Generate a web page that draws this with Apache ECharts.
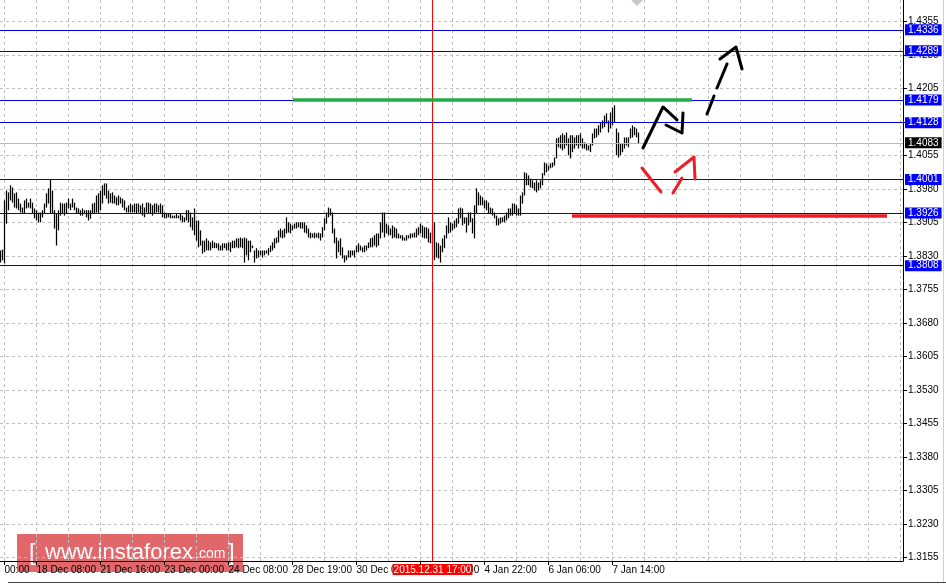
<!DOCTYPE html>
<html><head><meta charset="utf-8">
<script src="https://cdn.jsdelivr.net/npm/echarts@6/dist/echarts.min.js"></script>
<style>html,body{margin:0;padding:0;background:#fff}#c{width:946px;height:585px}</style>
</head><body><div id="c"></div>
<script>
// ---- data (H1 bars: high / low) ----
const barHigh = [
1.3842,1.3844,1.3954,1.3976,1.3972,1.3988,1.3983,1.3970,1.3972,1.3958,
1.3947,1.3938,1.3954,1.3958,1.3949,1.3958,1.3949,1.3936,1.3932,1.3927,
1.3927,1.3932,1.3947,1.3970,1.3981,1.4001,1.3976,1.3932,1.3925,1.3932,
1.3949,1.3947,1.3947,1.3949,1.3958,1.3947,1.3958,1.3949,1.3938,1.3936,
1.3932,1.3936,1.3932,1.3932,1.3932,1.3932,1.3947,1.3949,1.3965,1.3970,
1.3976,1.3988,1.3992,1.3992,1.3976,1.3970,1.3972,1.3965,1.3961,1.3965,
1.3961,1.3958,1.3954,1.3938,1.3943,1.3947,1.3943,1.3947,1.3947,1.3947,
1.3943,1.3947,1.3938,1.3949,1.3949,1.3947,1.3943,1.3947,1.3947,1.3943,
1.3947,1.3943,1.3927,1.3925,1.3925,1.3925,1.3920,1.3920,1.3925,1.3920,
1.3925,1.3920,1.3916,1.3932,1.3932,1.3927,1.3916,1.3936,1.3909,1.3909,
1.3887,1.3864,1.3864,1.3869,1.3864,1.3860,1.3864,1.3860,1.3858,1.3858,
1.3853,1.3858,1.3858,1.3858,1.3860,1.3860,1.3864,1.3864,1.3869,1.3869,
1.3871,1.3869,1.3871,1.3869,1.3864,1.3864,1.3853,1.3842,1.3847,1.3842,
1.3842,1.3842,1.3842,1.3842,1.3847,1.3853,1.3860,1.3869,1.3871,1.3887,
1.3891,1.3887,1.3891,1.3916,1.3905,1.3902,1.3898,1.3902,1.3905,1.3905,
1.3905,1.3905,1.3905,1.3898,1.3891,1.3882,1.3880,1.3882,1.3880,1.3882,
1.3880,1.3894,1.3914,1.3927,1.3938,1.3936,1.3927,1.3891,1.3871,1.3864,
1.3869,1.3849,1.3831,1.3831,1.3842,1.3842,1.3842,1.3842,1.3853,1.3858,
1.3853,1.3849,1.3853,1.3853,1.3860,1.3869,1.3871,1.3876,1.3880,1.3880,
1.3905,1.3927,1.3927,1.3902,1.3898,1.3891,1.3898,1.3894,1.3891,1.3880,
1.3876,1.3876,1.3871,1.3876,1.3876,1.3880,1.3880,1.3882,1.3891,1.3894,
1.3902,1.3898,1.3894,1.3894,1.3891,1.3882,1.3894,1.3905,1.3860,1.3858,
1.3853,1.3869,1.3876,1.3898,1.3916,1.3905,1.3902,1.3909,1.3914,1.3936,
1.3938,1.3936,1.3916,1.3916,1.3927,1.3927,1.3914,1.3943,1.3981,1.3972,
1.3965,1.3961,1.3954,1.3954,1.3949,1.3938,1.3936,1.3927,1.3920,1.3914,
1.3916,1.3916,1.3920,1.3927,1.3936,1.3936,1.3947,1.3947,1.3943,1.3936,
1.3965,1.3972,1.4017,1.4015,1.4010,1.4003,1.3999,1.3994,1.3999,1.3994,
1.3999,1.4015,1.4039,1.4037,1.4032,1.4037,1.4039,1.4050,1.4093,1.4095,
1.4100,1.4104,1.4100,1.4106,1.4093,1.4100,1.4100,1.4095,1.4100,1.4100,
1.4104,1.4093,1.4084,1.4082,1.4077,1.4082,1.4104,1.4115,1.4115,1.4122,
1.4129,1.4133,1.4144,1.4149,1.4133,1.4151,1.4162,1.4167,1.4115,1.4106,
1.4082,1.4082,1.4095,1.4095,1.4095,1.4115,1.4122,1.4118,1.4115,1.4106
];
const barLow = [
1.3815,1.3820,1.3813,1.3902,1.3932,1.3954,1.3949,1.3938,1.3936,1.3932,
1.3927,1.3925,1.3925,1.3936,1.3938,1.3936,1.3925,1.3914,1.3909,1.3905,
1.3905,1.3916,1.3925,1.3938,1.3947,1.3925,1.3925,1.3891,1.3853,1.3887,
1.3920,1.3925,1.3920,1.3925,1.3936,1.3932,1.3938,1.3932,1.3925,1.3925,
1.3920,1.3920,1.3925,1.3916,1.3909,1.3913,1.3925,1.3925,1.3927,1.3925,
1.3932,1.3947,1.3965,1.3958,1.3947,1.3949,1.3947,1.3947,1.3943,1.3943,
1.3947,1.3938,1.3932,1.3927,1.3927,1.3927,1.3927,1.3927,1.3925,1.3927,
1.3925,1.3920,1.3916,1.3927,1.3925,1.3925,1.3920,1.3925,1.3927,1.3927,
1.3925,1.3916,1.3914,1.3914,1.3916,1.3914,1.3914,1.3914,1.3914,1.3914,
1.3909,1.3905,1.3905,1.3909,1.3905,1.3894,1.3887,1.3876,1.3864,1.3849,
1.3853,1.3835,1.3838,1.3842,1.3842,1.3842,1.3847,1.3847,1.3847,1.3842,
1.3842,1.3842,1.3847,1.3842,1.3842,1.3838,1.3847,1.3847,1.3849,1.3847,
1.3849,1.3847,1.3815,1.3831,1.3820,1.3838,1.3847,1.3815,1.3824,1.3826,
1.3831,1.3826,1.3831,1.3835,1.3831,1.3838,1.3842,1.3847,1.3858,1.3860,
1.3871,1.3869,1.3871,1.3880,1.3882,1.3880,1.3887,1.3891,1.3891,1.3894,
1.3891,1.3891,1.3882,1.3880,1.3871,1.3869,1.3871,1.3869,1.3871,1.3869,
1.3864,1.3871,1.3887,1.3902,1.3916,1.3920,1.3880,1.3858,1.3824,1.3838,
1.3831,1.3824,1.3815,1.3820,1.3826,1.3826,1.3831,1.3826,1.3838,1.3838,
1.3842,1.3838,1.3838,1.3842,1.3847,1.3849,1.3849,1.3853,1.3849,1.3853,
1.3869,1.3882,1.3871,1.3880,1.3876,1.3876,1.3869,1.3871,1.3869,1.3869,
1.3869,1.3864,1.3864,1.3864,1.3869,1.3869,1.3871,1.3871,1.3871,1.3876,
1.3880,1.3871,1.3869,1.3869,1.3860,1.3858,1.3858,1.3820,1.3826,1.3824,
1.3815,1.3838,1.3847,1.3869,1.3880,1.3882,1.3887,1.3891,1.3894,1.3902,
1.3914,1.3898,1.3902,1.3882,1.3898,1.3905,1.3880,1.3869,1.3925,1.3943,
1.3943,1.3943,1.3936,1.3932,1.3925,1.3925,1.3920,1.3914,1.3898,1.3898,
1.3902,1.3905,1.3905,1.3909,1.3914,1.3920,1.3920,1.3925,1.3920,1.3920,
1.3920,1.3947,1.3965,1.3988,1.3988,1.3983,1.3981,1.3976,1.3972,1.3976,
1.3981,1.3988,1.4010,1.4017,1.4021,1.4026,1.4028,1.4032,1.4048,1.4073,
1.4070,1.4066,1.4070,1.4077,1.4055,1.4048,1.4062,1.4070,1.4077,1.4070,
1.4077,1.4070,1.4070,1.4066,1.4066,1.4062,1.4077,1.4093,1.4095,1.4100,
1.4106,1.4115,1.4118,1.4126,1.4106,1.4115,1.4122,1.4129,1.4055,1.4050,
1.4055,1.4062,1.4070,1.4077,1.4073,1.4093,1.4095,1.4100,1.4095,1.4082
];
// ---- axis ticks / labels ----
const priceTicks = [1.3155,1.3230,1.3305,1.3380,1.3455,1.3530,1.3605,1.3680,1.3755,1.3830,1.3905,1.3980,1.4055,1.4130,1.4205,1.4280,1.4355];
const timeTickIndex = [2,18,50,82,114,146,178,210,242,274,306];
const timeTickLabels = ['00:00','18 Dec 08:00','21 Dec 16:00','23 Dec 00:00','24 Dec 08:00','28 Dec 19:00','30 Dec 03:00','31 Dec 11:00','4 Jan 22:00','6 Jan 06:00','7 Jan 14:00'];
const timeGridIndex = [2,18,34,50,66,82,98,114,130,146,162,178,194,210,226,242,258,274,290,306,322,338,354,370,386,402,418,434,450];
// ---- levels & annotations (bar index, price) ----
const levelValues = [1.4336,1.4289,1.4179,1.4128,1.4001,1.3926,1.3808];
const bidValue = 1.4083;
const markerIndex = 216;
const markerLabel = '2015.12.31 17:00';
const greenZone = [[146.25,1.4180],[345.75,1.4180]];
const redZone = [[285.75,1.3920],[443.25,1.3920]];
const blackArrowPaths = [
  [[321.25,1.40714],[331.25,1.41632],[338.25,1.41341]],
  [[332.75,1.41229],[340.75,1.41049],[341.25,1.41497]]
];
const blackDashPaths = [
  [[353.25,1.41475],[356.75,1.41878]],
  [[358.25,1.42057],[363.25,1.42594]],
  [[359.75,1.42706],[367.75,1.42975],[370.75,1.42482]]
];
const redArrowPaths = [
  [[320.75,1.40266],[330.25,1.39729]],
  [[336.25,1.39706],[340.75,1.40042]],
  [[337.25,1.40176],[346.75,1.40512],[347.25,1.40020]]
];

const FONT = "'Liberation Sans',Arial,sans-serif";
const barData = barHigh.map((h, i) => [i, h, barLow[i]]);

function pathSeries(paths, color, width) {
  return {
    type: 'custom', xAxisIndex: 0, yAxisIndex: 0, z: 6, silent: true, animation: false,
    data: paths.map((p, i) => [i]),
    renderItem: function (params, api) {
      const pts = paths[params.dataIndex].map(pt => api.coord(pt));
      return { type: 'polyline', shape: { points: pts },
        style: { stroke: color, lineWidth: width, fill: null, lineCap: 'round', lineJoin: 'round' } };
    }
  };
}

const chart = echarts.init(document.getElementById('c'), null, { renderer: 'canvas' });
const lblBase = { show: true, position: 'end', distance: 2, color: '#fff', fontFamily: FONT, fontSize: 10,
  lineHeight: 10, padding: [1, 3, 0, 3] };
const option = {
  animation: false,
  backgroundColor: '#fff',
  grid: { left: 0, right: 43, top: 0, bottom: 24, containLabel: false, outerBoundsMode: 'none' },
  xAxis: [
    { type: 'value', min: -0.25, max: 451.25, position: 'bottom',
      axisLine: { show: true, onZero: false, lineStyle: { color: '#000', width: 1 } },
      axisTick: { show: true, customValues: timeTickIndex, length: 4, lineStyle: { color: '#000' } },
      axisLabel: { show: true, customValues: timeTickIndex, align: 'left', margin: 4, color: '#000', fontSize: 10, fontFamily: FONT,
        formatter: v => { const k = timeTickIndex.indexOf(Math.round(v)); return k >= 0 ? timeTickLabels[k] : ''; } },
      splitLine: { show: false } },
    { type: 'value', min: -0.25, max: 451.25, position: 'top',
      axisLine: { show: false }, axisTick: { show: false, customValues: timeGridIndex },
      axisLabel: { show: false, customValues: timeGridIndex },
      splitLine: { show: true, lineStyle: { color: '#c0c0c0', width: 1, type: [3, 3] } } }
  ],
  yAxis: { type: 'value', position: 'right', min: 1.31467, max: 1.44027,
    axisLine: { show: true, onZero: false, lineStyle: { color: '#000', width: 1 } },
    axisTick: { show: true, customValues: priceTicks, length: 4, lineStyle: { color: '#000' } },
    axisLabel: { show: true, customValues: priceTicks, margin: 5, color: '#000', fontSize: 10, fontFamily: FONT,
      formatter: v => v.toFixed(4) },
    splitLine: { show: true, lineStyle: { color: '#c0c0c0', width: 1, type: [3, 3] } } },
  series: [
    { type: 'custom', name: 'bars', xAxisIndex: 0, yAxisIndex: 0, z: 3, animation: false, silent: true,
      data: barData, encode: { x: 0, y: [1, 2] },
      renderItem: function (params, api) {
        const hi = api.coord([api.value(0), api.value(1)]);
        const lo = api.coord([api.value(0), api.value(2)]);
        const x = Math.round(hi[0] - 0.5) + 0.5;
        const y2 = Math.max(lo[1], hi[1] + 1);
        return { type: 'line', shape: { x1: x, y1: hi[1], x2: x, y2: y2 }, style: { stroke: '#000', lineWidth: 1.25 } };
      },
      markLine: { silent: true, symbol: ['none', 'none'], animation: false, precision: 4,
        data: [
          ...levelValues.map(v => ({ yAxis: v, lineStyle: { color: '#0000dd', width: 1, type: 'solid' },
            label: Object.assign({}, lblBase, { formatter: v.toFixed(4), backgroundColor: '#0000ff' }) })),
          { yAxis: bidValue, lineStyle: { color: '#b8b8b8', width: 1, type: 'solid' },
            label: Object.assign({}, lblBase, { formatter: bidValue.toFixed(4), backgroundColor: '#000' }) },
          { xAxis: markerIndex, lineStyle: { color: '#ff0000', width: 1, type: 'solid' },
            label: Object.assign({}, lblBase, { position: 'start', distance: 3, padding: [1, 1, 0, 1], formatter: markerLabel, backgroundColor: '#ff0000' }) },
          [ { coord: greenZone[0], lineStyle: { color: '#22aa44', width: 3.5, type: 'solid' }, label: { show: false } }, { coord: greenZone[1] } ],
          [ { coord: redZone[0], lineStyle: { color: '#ee1c25', width: 3.5, type: 'solid' }, label: { show: false } }, { coord: redZone[1] } ]
        ] } },
    pathSeries(blackArrowPaths, '#000', 3),
    pathSeries(blackDashPaths, '#000', 3),
    pathSeries(redArrowPaths, '#ee1c25', 3)
  ],
  graphic: [
    { type: 'line', z: 50, shape: { x1: 8, y1: 582.5, x2: 946, y2: 582.5 }, style: { stroke: '#444', lineWidth: 1 } },
    { type: 'line', z: 50, shape: { x1: 943.5, y1: 0, x2: 943.5, y2: 582 }, style: { stroke: '#d0d0d0', lineWidth: 1 } },
    { type: 'polygon', z: 50, shape: { points: [[631, 0], [643, 0], [637, 6]] }, style: { fill: '#c8c8c8' } },
    { type: 'group', x: 17, y: 534, z: 100, children: [
      { type: 'rect', shape: { x: 0, y: 0, width: 226, height: 38 }, style: { fill: 'rgba(214,45,50,0.72)' } },
      { type: 'text', x: 12, y: 19, style: { text: '[', fill: '#fff', fontSize: 24, fontFamily: FONT, verticalAlign: 'middle' } },
      { type: 'text', x: 28, y: 19, style: { text: 'www.instaforex', fill: '#fff', fontSize: 22, fontFamily: FONT, verticalAlign: 'middle' } },
      { type: 'text', x: 178, y: 27, style: { text: '.com', fill: '#fff', fontSize: 14, fontFamily: FONT, verticalAlign: 'bottom' } },
      { type: 'text', x: 211, y: 19, style: { text: ']', fill: '#fff', fontSize: 24, fontFamily: FONT, verticalAlign: 'middle' } }
    ] }
  ]
};
chart.setOption(option);
</script>
</body></html>
